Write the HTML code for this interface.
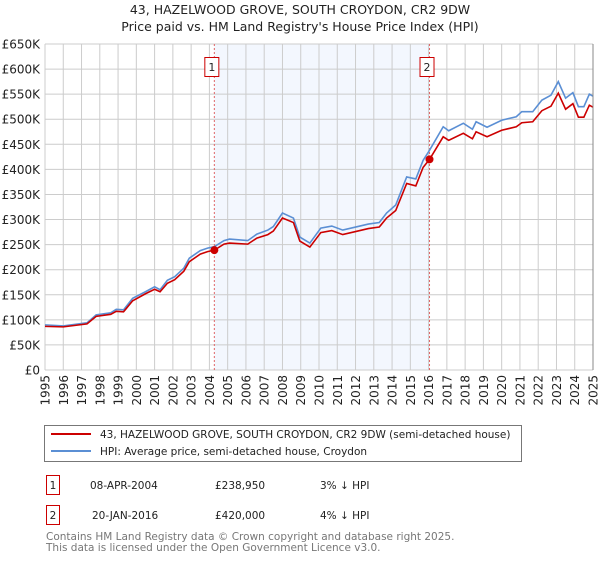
<!DOCTYPE html>
<html><head><meta charset="utf-8"><style>
body{margin:0;background:#fff;font-family:"DejaVu Sans","Liberation Sans",sans-serif;}
svg text{font-family:"DejaVu Sans","Liberation Sans",sans-serif;}
</style></head><body>
<svg id="c" width="600" height="560" viewBox="0 0 600 560" xmlns="http://www.w3.org/2000/svg">
<text x="300" y="14" text-anchor="middle" font-size="12.5" fill="#222">43, HAZELWOOD GROVE, SOUTH CROYDON, CR2 9DW</text>
<text x="300" y="31" text-anchor="middle" font-size="12.5" fill="#222">Price paid vs. HM Land Registry's House Price Index (HPI)</text>
<g id="plot"></g>
<g>
<rect x="44.5" y="425.5" width="477" height="36" fill="#fff" stroke="#777"/>
<line x1="51" y1="434" x2="91" y2="434" stroke="#cc0000" stroke-width="2"/>
<text x="100" y="438" font-size="10.5" fill="#222">43, HAZELWOOD GROVE, SOUTH CROYDON, CR2 9DW (semi-detached house)</text>
<line x1="51" y1="451" x2="91" y2="451" stroke="#5b8fd4" stroke-width="2"/>
<text x="100" y="455" font-size="10.5" fill="#222">HPI: Average price, semi-detached house, Croydon</text>
</g>
<g font-size="10.5" fill="#222">
<rect x="46.5" y="475.5" width="13" height="19" fill="#fff" stroke="#cc0000"/>
<text x="53" y="489" text-anchor="middle">1</text>
<text x="90" y="489">08-APR-2004</text><text x="215" y="489">£238,950</text><text x="320" y="489">3% ↓ HPI</text>
<rect x="46.5" y="505.5" width="13" height="19" fill="#fff" stroke="#cc0000"/>
<text x="53" y="519" text-anchor="middle">2</text>
<text x="92" y="519">20-JAN-2016</text><text x="215" y="519">£420,000</text><text x="320" y="519">4% ↓ HPI</text>
</g>
<text x="46" y="540" font-size="10.5" fill="#777">Contains HM Land Registry data © Crown copyright and database right 2025.</text>
<text x="46" y="551" font-size="10.5" fill="#777">This data is licensed under the Open Government Licence v3.0.</text>
</svg>
<script>
const years=[1995,1996,1997.3,1997.8,1998.6,1998.9,1999.3,1999.8,2000.5,2001,2001.3,2001.7,2002.1,2002.6,2002.9,2003.5,2003.9,2004.27,2004.8,2005.1,2006.1,2006.6,2007.2,2007.5,2008,2008.6,2008.95,2009.5,2010.1,2010.7,2011.3,2012,2012.7,2013.3,2013.7,2014.2,2014.8,2015.3,2015.7,2016.05,2016.8,2017.1,2017.9,2018.4,2018.6,2019.2,2020,2020.8,2021.1,2021.7,2022.2,2022.7,2023.1,2023.5,2023.9,2024.2,2024.5,2024.8,2025];
const hpiValues=[90,88,94,110,114,121,120,143,156,166,160,179,186,203,223,238,243,246,258,261,258,271,279,286,313,303,265,253,283,287,279,285,291,294,313,329,385,381,418,438,485,477,492,480,495,484,498,505,515,515,538,548,575,542,553,525,525,550,546];
const propValues=[87,86,92,107,111,117,116,138,152,161,156,173,180,197,216,231,236,239,251,253,251,263,270,277,303,294,257,245,274,278,270,276,282,285,303,318,372,367,404,420,465,458,472,461,475,465,478,485,493,495,517,526,552,520,531,504,504,528,524];
const saleYears=[2004.27,2016.05];
const saleValues=[238.95,420];
const saleLabels=["1","2"];
const yTicks=[0,50,100,150,200,250,300,350,400,450,500,550,600,650];
const yTickLabels=["£0","£50K","£100K","£150K","£200K","£250K","£300K","£350K","£400K","£450K","£500K","£550K","£600K","£650K"];
const xTicks=[1995,1996,1997,1998,1999,2000,2001,2002,2003,2004,2005,2006,2007,2008,2009,2010,2011,2012,2013,2014,2015,2016,2017,2018,2019,2020,2021,2022,2023,2024,2025];

const L=45,R=593,T=44,B=370;
const xs=y=>L+(y-1995)/(2025-1995)*(R-L);
const ys=v=>B-v/650*(B-T);
const NS="http://www.w3.org/2000/svg";
const g=document.getElementById('plot');
function mk(tag,attrs,parent){const e=document.createElementNS(NS,tag);for(const k in attrs)e.setAttribute(k,attrs[k]);(parent||g).appendChild(e);return e;}
const band=mk('rect',{x:xs(saleYears[0]),y:T,width:xs(saleYears[1])-xs(saleYears[0]),height:B-T,fill:'#eef3fd',opacity:0.7});


xTicks.forEach(t=>{const l=mk('line',{x1:xs(t),x2:xs(t),y1:T,y2:B,stroke:'#cccccc','stroke-width':1});


const tx=mk('text',{x:0,y:0,'font-size':12,fill:'#222','text-anchor':'end',transform:`translate(${xs(t)+4.5},${B+5}) rotate(-90)`});tx.textContent=t;

});
yTicks.forEach((t,i)=>{const l=mk('line',{x1:L,x2:R,y1:ys(t),y2:ys(t),stroke:'#cccccc','stroke-width':1});


const tx=mk('text',{x:L-5,y:ys(t)+4.5,'font-size':12,fill:'#222','text-anchor':'end'});tx.textContent=yTickLabels[i];

});
saleYears.forEach((yr,i)=>{const l=mk('line',{x1:xs(yr),x2:xs(yr),y1:T,y2:B,stroke:'#e06666','stroke-width':1,'stroke-dasharray':'2,2'});


const bx=mk('rect',{x:xs(yr)-9.5,y:57.5,width:14,height:19,fill:'#fff',stroke:'#cc0000'});


const tx=mk('text',{x:xs(yr)-2.5,y:71,'font-size':11,fill:'#222','text-anchor':'middle'});tx.textContent=saleLabels[i];

});
const hp=mk('polyline',{points:years.map((y,i)=>xs(y)+','+ys(hpiValues[i])).join(' '),fill:'none',stroke:'#5b8fd4','stroke-width':1.6});


const pp=mk('polyline',{points:years.map((y,i)=>xs(y)+','+ys(propValues[i])).join(' '),fill:'none',stroke:'#cc0000','stroke-width':1.6});


saleYears.forEach((yr,i)=>{const c=mk('circle',{cx:xs(yr),cy:ys(saleValues[i]),r:4,fill:'#cc0000'});

});
const ax=mk('line',{x1:R,x2:R,y1:T,y2:B,stroke:'#888','stroke-width':1});


</script>
</body></html>
